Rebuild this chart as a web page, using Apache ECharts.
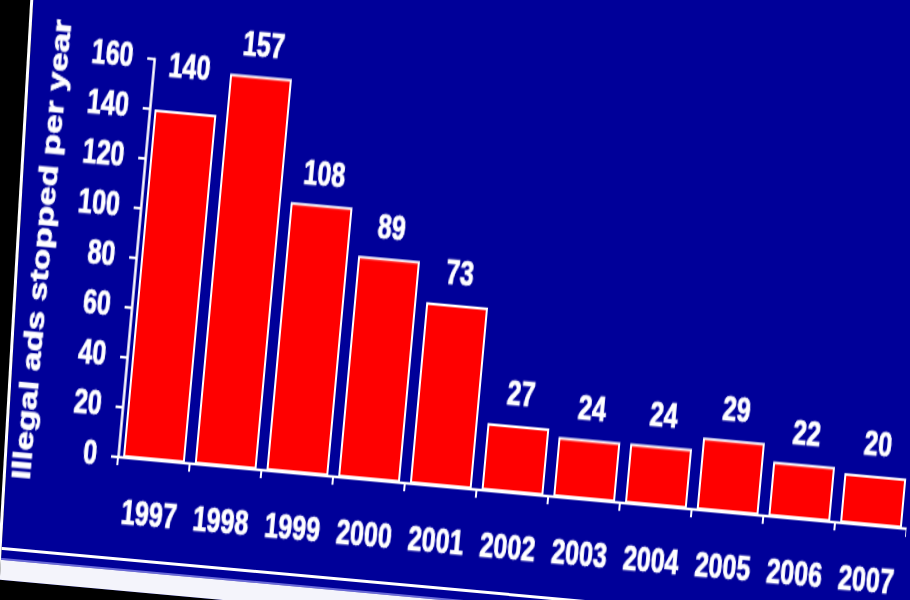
<!DOCTYPE html>
<html>
<head>
<meta charset="utf-8">
<script src="https://cdn.jsdelivr.net/npm/echarts@6/dist/echarts.min.js"></script>
<style>
  html, body { margin: 0; padding: 0; width: 910px; height: 600px; overflow: hidden; background: #000; }
  #slide { position: absolute; left: -300px; top: -300px; width: 1600px; height: 890px; background: #000099;
           transform-origin: 418px 757px; transform: rotate(5.2deg); }
  .band { position: absolute; left: 0; width: 1600px; }
  #leftMask { position: absolute; left: -261px; top: -100px; width: 300px; height: 900px; box-sizing: border-box;
              background: #000; border-right: 3px solid #fff; transform-origin: 300px 0; transform: rotate(3.3deg); }
  #chart { position: absolute; left: 0; top: 0; width: 910px; height: 600px; transform-origin: 118px 457px;
           transform: rotate(5.2deg) scaleY(1.35); }
</style>
</head>
<body>
<div id="slide">
  <div class="band" style="top:857px;height:3px;background:#ffffff;"></div>
  <div class="band" style="top:868px;height:2px;background:#6a6ad8;"></div>
  <div class="band" style="top:870px;height:20px;background:#f4f4fb;"></div>
</div>
<div id="leftMask"></div>
<div id="chart"></div>
<script>
const years = ['1997','1998','1999','2000','2001','2002','2003','2004','2005','2006','2007'];
const adsStopped = [140, 157, 108, 89, 73, 27, 24, 24, 29, 22, 20];
const yTicks = { min: 0, max: 160, interval: 20 };
const yAxisTitle = 'Illegal ads stopped per year';

const font = "'Liberation Sans', Arial, sans-serif";
const heavy = { textBorderColor: '#fff', textBorderWidth: 0.7 };
const barData = adsStopped.map((v, i) => i === 0 ? { value: v, label: { distance: 19 } } : v);

const chart = echarts.init(document.getElementById('chart'), null, { renderer: 'canvas' });
chart.setOption({
  backgroundColor: 'transparent',
  animation: false,
  grid: { left: 118, top: 161, right: 0, bottom: 143, outerBoundsMode: 'none', containLabel: false },
  xAxis: {
    type: 'category',
    data: years,
    axisLine: { show: true, lineStyle: { color: '#fff', width: 2 } },
    axisTick: { show: true, length: 6, alignWithLabel: false, lineStyle: { color: '#fff', width: 2 } },
    axisLabel: Object.assign({ color: '#fff', fontSize: 25, fontWeight: 'bold', fontFamily: font, margin: 30, interval: 0 }, heavy),
    splitLine: { show: false }
  },
  yAxis: {
    type: 'value',
    min: yTicks.min, max: yTicks.max, interval: yTicks.interval,
    name: yAxisTitle,
    nameLocation: 'middle',
    nameGap: 80,
    nameTextStyle: Object.assign({ color: '#fff', fontSize: 26, fontWeight: 'bold', fontFamily: font }, heavy),
    axisLine: { show: true, lineStyle: { color: '#fff', width: 2.5 } },
    axisTick: { show: true, length: 7, lineStyle: { color: '#fff', width: 2 } },
    axisLabel: Object.assign({ color: '#fff', fontSize: 25, fontWeight: 'bold', fontFamily: font, margin: 21 }, heavy),
    splitLine: { show: false }
  },
  series: [{
    type: 'bar',
    data: barData,
    barWidth: 62,
    itemStyle: { color: '#ff0000', borderColor: '#ffffff', borderWidth: 2 },
    label: Object.assign({ show: true, position: 'top', distance: 9, color: '#fff', fontSize: 25, fontWeight: 'bold', fontFamily: font }, heavy)
  }]
});
</script>
</body>
</html>
